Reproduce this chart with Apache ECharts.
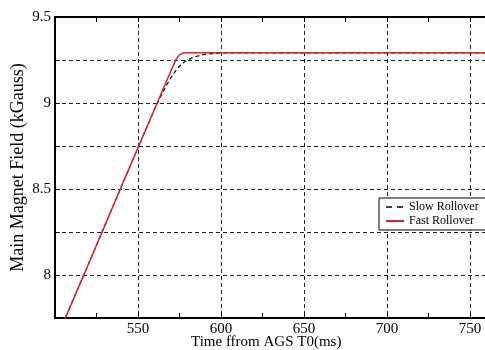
<!DOCTYPE html>
<html>
<head>
<meta charset="utf-8">
<script src="https://cdn.jsdelivr.net/npm/echarts@6/dist/echarts.min.js"></script>
<style>html,body{margin:0;padding:0;background:#fff}#c{width:485px;height:350px}</style>
</head>
<body>
<div id="c"></div>
<script>
// Data
var slowTime  = [500, 520, 540, 550, 558, 561, 564, 567, 570, 574, 578, 583, 590, 600, 800];
var slowField = [7.61, 8.06, 8.515, 8.74, 8.92, 8.985, 9.045, 9.10, 9.15, 9.205, 9.24, 9.265, 9.283, 9.291, 9.292];
var fastTime  = [500, 520, 540, 550, 560, 570, 573, 575, 577, 580, 600, 800];
var fastField = [7.61, 8.06, 8.515, 8.74, 8.965, 9.19, 9.255, 9.28, 9.29, 9.292, 9.292, 9.292];
var yLabels = [8, 8.5, 9, 9.5];
var seriesNames = ['Slow Rollover', 'Fast Rollover'];

function pairs(xs, ys){ return xs.map(function(x,i){ return [x, ys[i]]; }); }

var FONT = 'Liberation Serif';
var chart = echarts.init(document.getElementById('c'), null, {renderer:'canvas'});
chart.setOption({
  animation: false,
  backgroundColor: '#fff',
  textStyle: {fontFamily: FONT},
  grid: {left: 55, top: 17, width: 498, height: 301, outerBoundsMode: 'none', containLabel: false},
  title: {
    text: 'Time ffrom AGS T0(ms)', left: 191, top: 335, padding: 0,
    textStyle: {fontFamily: FONT, fontSize: 15, fontWeight: 'normal', color: '#000'}
  },
  legend: {
    orient: 'vertical', left: 379, top: 198,
    padding: [3, 30, 3, 6], itemGap: 2, itemWidth: 18, itemHeight: 12,
    backgroundColor: '#fff', borderColor: '#000', borderWidth: 1, borderRadius: 0,
    itemStyle: {opacity: 0},
    textStyle: {fontFamily: FONT, fontSize: 12, color: '#000'},
    data: [
      {name: seriesNames[0], lineStyle: {type: [6, 5], width: 1.3}},
      {name: seriesNames[1]}
    ]
  },
  xAxis: [{
    type: 'value', min: 500, max: 800, interval: 50, position: 'bottom',
    axisLine: {show: true, lineStyle: {color: '#000', width: 2}},
    axisTick: {show: true, inside: true, length: 5, lineStyle: {color: '#000'}},
    minorTick: {show: true, splitNumber: 2, length: 5, lineStyle: {color: '#000'}},
    axisLabel: {showMinLabel: false, fontFamily: FONT, fontSize: 15, color: '#000', margin: 4},
    splitLine: {show: true, lineStyle: {color: '#222', type: [4, 3], width: 1}}
  }, {
    type: 'value', min: 500, max: 800, interval: 50, position: 'top',
    axisLine: {show: true, lineStyle: {color: '#000', width: 2}},
    axisTick: {show: true, inside: true, length: 5, lineStyle: {color: '#000'}},
    minorTick: {show: true, splitNumber: 2, length: 5, lineStyle: {color: '#000'}},
    axisLabel: {show: false}, splitLine: {show: false}
  }],
  yAxis: {
    type: 'value', min: 7.75, max: 9.5, interval: 0.25,
    name: 'Main Magnet Field (kGauss)', nameLocation: 'middle', nameGap: 28,
    nameMoveOverlap: false,
    nameTextStyle: {fontFamily: FONT, fontSize: 18, color: '#000'},
    axisLine: {show: true, lineStyle: {color: '#000', width: 2}},
    axisTick: {show: true, inside: true, length: 5, lineStyle: {color: '#000'}},
    axisLabel: {
      fontFamily: FONT, fontSize: 15, color: '#000', margin: 4,
      formatter: function(v){
        for (var i = 0; i < yLabels.length; i++) if (Math.abs(v - yLabels[i]) < 1e-6) return String(yLabels[i]);
        return '';
      }
    },
    splitLine: {show: true, lineStyle: {color: '#222', type: [4, 3], width: 1}}
  },
  series: [{
    name: seriesNames[0], type: 'line', symbol: 'none', smooth: false,
    data: pairs(slowTime, slowField),
    lineStyle: {color: '#000', width: 1.2, type: [4, 3]},
    itemStyle: {color: '#000'}
  }, {
    name: seriesNames[1], type: 'line', symbol: 'none', smooth: false,
    data: pairs(fastTime, fastField),
    lineStyle: {color: '#e3202a', width: 1.5},
    itemStyle: {color: '#e3202a'}
  }]
});
</script>
</body>
</html>
